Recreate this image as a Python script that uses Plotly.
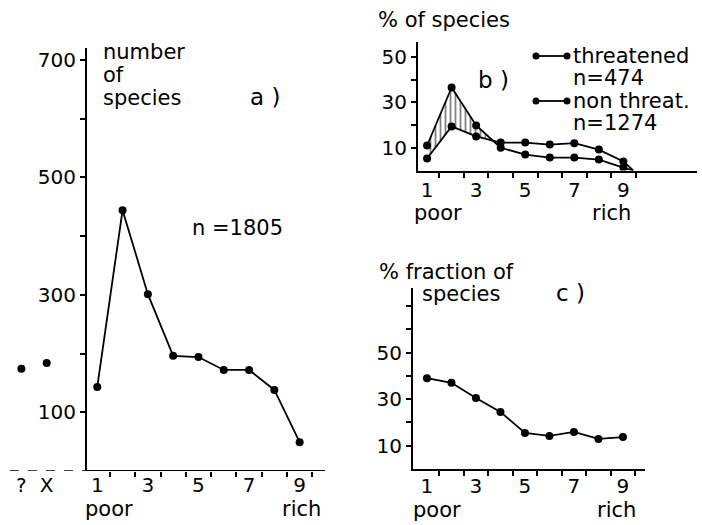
import plotly.graph_objects as go

W, H = 702, 525
FONT = "DejaVu Sans"

# ---------------- data ----------------
classes = [1, 2, 3, 4, 5, 6, 7, 8, 9]
odd_ticks = [1, 3, 5, 7, 9]
odd_labels = ["1", "3", "5", "7", "9"]
half_ticks = [1.5, 2.5, 3.5, 4.5, 5.5, 6.5, 7.5, 8.5, 9.5]

# panel a: number of species per nutrient class
a_values = [143, 444, 301, 196, 194, 172, 172, 138, 49]
a_extra_pos = [-2, -1]
a_extra_labels = ["?", "X"]
a_extra_values = [174, 184]
a_yticks = [100, 200, 300, 400, 500, 600, 700]
a_ytext = ["100", "", "300", "", "500", "", "700"]

# panel b: % of species, threatened vs non threatened
b_threat = [11, 36.5, 19.8, 10, 7, 5.7, 5.7, 4.8, 1.3]
b_nonthreat = [5.3, 19.4, 15, 12.3, 12.3, 11.4, 12, 9.2, 4]
b_end_x = 9.4
b_end_val = 0
b_yticks = [10, 20, 30, 40, 50]
b_ytext = ["10", "", "30", "", "50"]

# panel c: % fraction of threatened species
c_fraction = [39, 37, 30.5, 24.5, 15.5, 14.2, 15.9, 12.9, 13.7]
c_yticks = [10, 20, 30, 40, 50, 60, 70]
c_ytext = ["10", "", "30", "", "50", "", ""]


def px(x):
    return x / W


def py(y):
    return 1 - y / H


fig = go.Figure()

mk = dict(color="black", size=8, opacity=1)
ln = dict(color="black", width=1.8)

# panel a
fig.add_trace(go.Scatter(x=classes, y=a_values, mode="lines+markers",
                         marker=mk, line=ln, xaxis="x", yaxis="y"))
fig.add_trace(go.Scatter(x=a_extra_pos, y=a_extra_values, mode="markers",
                         marker=mk, xaxis="x", yaxis="y"))

# panel b hatching between curves (threatened above non threatened)
d = [t - n for t, n in zip(b_threat, b_nonthreat)]
i = next(k for k in range(len(d) - 1) if d[k] > 0 and d[k + 1] <= 0)
frac = d[i] / (d[i] - d[i + 1])
xc = classes[i] + frac
yc = b_nonthreat[i] + frac * (b_nonthreat[i + 1] - b_nonthreat[i])
hx = classes[: i + 1] + [xc]
fig.add_trace(go.Scatter(x=hx, y=b_nonthreat[: i + 1] + [yc], mode="lines",
                         line=dict(width=0), xaxis="x2", yaxis="y2"))
fig.add_trace(go.Scatter(x=hx, y=b_threat[: i + 1] + [yc], mode="lines",
                         line=dict(width=0), fill="tonexty",
                         fillcolor="rgba(0,0,0,0)",
                         fillpattern=dict(shape="|", fgcolor="black",
                                          bgcolor="white", size=5, solidity=0.35),
                         xaxis="x2", yaxis="y2"))

bx = classes + [b_end_x]
bsize = [8] * len(classes) + [0]
bmk = dict(color="black", size=bsize, opacity=1,
           line=dict(color="black", width=0))
fig.add_trace(go.Scatter(x=bx, y=b_threat + [b_end_val], mode="lines+markers",
                         marker=bmk, line=ln, xaxis="x2", yaxis="y2"))
fig.add_trace(go.Scatter(x=bx, y=b_nonthreat + [b_end_val], mode="lines+markers",
                         marker=bmk, line=ln, xaxis="x2", yaxis="y2"))

# panel c
fig.add_trace(go.Scatter(x=classes, y=c_fraction, mode="lines+markers",
                         marker=mk, line=ln, xaxis="x3", yaxis="y3"))

tickfont = dict(family=FONT, size=20, color="black")
common = dict(showgrid=False, zeroline=False, linecolor="black", linewidth=2,
              tickcolor="black", tickwidth=1.5, ticklen=5, tickfont=tickfont,
              fixedrange=True)


def xax(domain, rng, anchor, tickvals, ticktext, showline=True, **kw):
    return dict(common, domain=domain, range=rng, anchor=anchor,
                tickmode="array", tickvals=tickvals, ticktext=ticktext,
                ticks="", showline=showline,
                minor=dict(tickmode="array", tickvals=half_ticks, ticks="outside",
                           ticklen=5, tickwidth=1.5, tickcolor="black",
                           showgrid=False), **kw)


def yax(domain, rng, tickvals, ticktext, **kw):
    return dict(common, domain=domain, range=rng, tickmode="array",
                tickvals=tickvals, ticktext=ticktext, ticks="outside",
                showline=True, **kw)


fig.update_layout(
    width=W, height=H, margin=dict(l=0, r=0, t=0, b=0),
    paper_bgcolor="white", plot_bgcolor="rgba(0,0,0,0)", showlegend=False,
    font=dict(family=FONT, size=21, color="black"),
    xaxis=xax([px(6.2), px(330)], [-2.6, 10.2], "y",
              a_extra_pos + odd_ticks, a_extra_labels + odd_labels, showline=False),
    yaxis=yax([py(471), py(48)], [0, 720], a_yticks, a_ytext,
              anchor="free", position=px(86)),
    xaxis2=xax([px(418), px(697)], [0.63, 12.0], "y2", odd_ticks, odd_labels),
    yaxis2=yax([py(170.5), py(42)], [0, 56.5], b_yticks, b_ytext, anchor="x2"),
    xaxis3=xax([px(413), px(645)], [0.43, 9.9], "y3", odd_ticks, odd_labels,
               ticklabelstandoff=-2),
    yaxis3=yax([py(469), py(288)], [0, 77.7], c_yticks, c_ytext, anchor="x3"),
)

shapes = [
    dict(type="line", xref="x", yref="y", x0=0.55, x1=10.0, y0=0, y1=0,
         line=dict(color="black", width=2)),
    dict(type="line", xref="x", yref="y", x0=-2.45, x1=0.55, y0=0, y1=0,
         line=dict(color="black", width=1.5, dash="dash")),
]
# legend symbols in panel b
for yy in (56, 101):
    shapes.append(dict(type="line", xref="paper", yref="paper",
                       x0=px(536), x1=px(567), y0=py(yy), y1=py(yy),
                       line=dict(color="black", width=1.8)))
    for xx in (536, 567):
        shapes.append(dict(type="circle", xref="paper", yref="paper",
                           x0=px(xx - 3.5), x1=px(xx + 3.5),
                           y0=py(yy + 3.5), y1=py(yy - 3.5),
                           fillcolor="black", line=dict(color="black", width=0)))
fig.update_layout(shapes=shapes)


def ann(text, x, y, xanchor="left", size=21):
    return dict(text=text, x=px(x), y=py(y), xref="paper", yref="paper",
                xanchor=xanchor, yanchor="middle", showarrow=False,
                font=dict(family=FONT, size=size, color="black"))


annotations = [
    ann("number", 101, 52), ann("of", 101, 75), ann("species", 101, 98),
    ann("a )", 265, 97, "center", 23),
    ann("n =1805", 190, 228),
    ann("poor", 109, 509, "center"), ann("rich", 301, 509, "center"),
    ann("% of species", 376, 20),
    ann("b )", 493, 80, "center", 23),
    ann("threatened", 571, 56), ann("n=474", 571, 78),
    ann("non threat.", 571, 101), ann("n=1274", 571, 123),
    ann("poor", 438, 213, "center"), ann("rich", 611, 213, "center"),
    ann("% fraction of", 377, 272), ann("species", 420, 294),
    ann("c )", 570, 293, "center", 23),
    ann("poor", 437, 510, "center"), ann("rich", 616, 510, "center"),
]
fig.update_layout(annotations=annotations)

fig.write_html(
    "out.html",
    config={"displayModeBar": False},
    post_script="document.body.style.margin='0';document.body.style.padding='0';",
)
